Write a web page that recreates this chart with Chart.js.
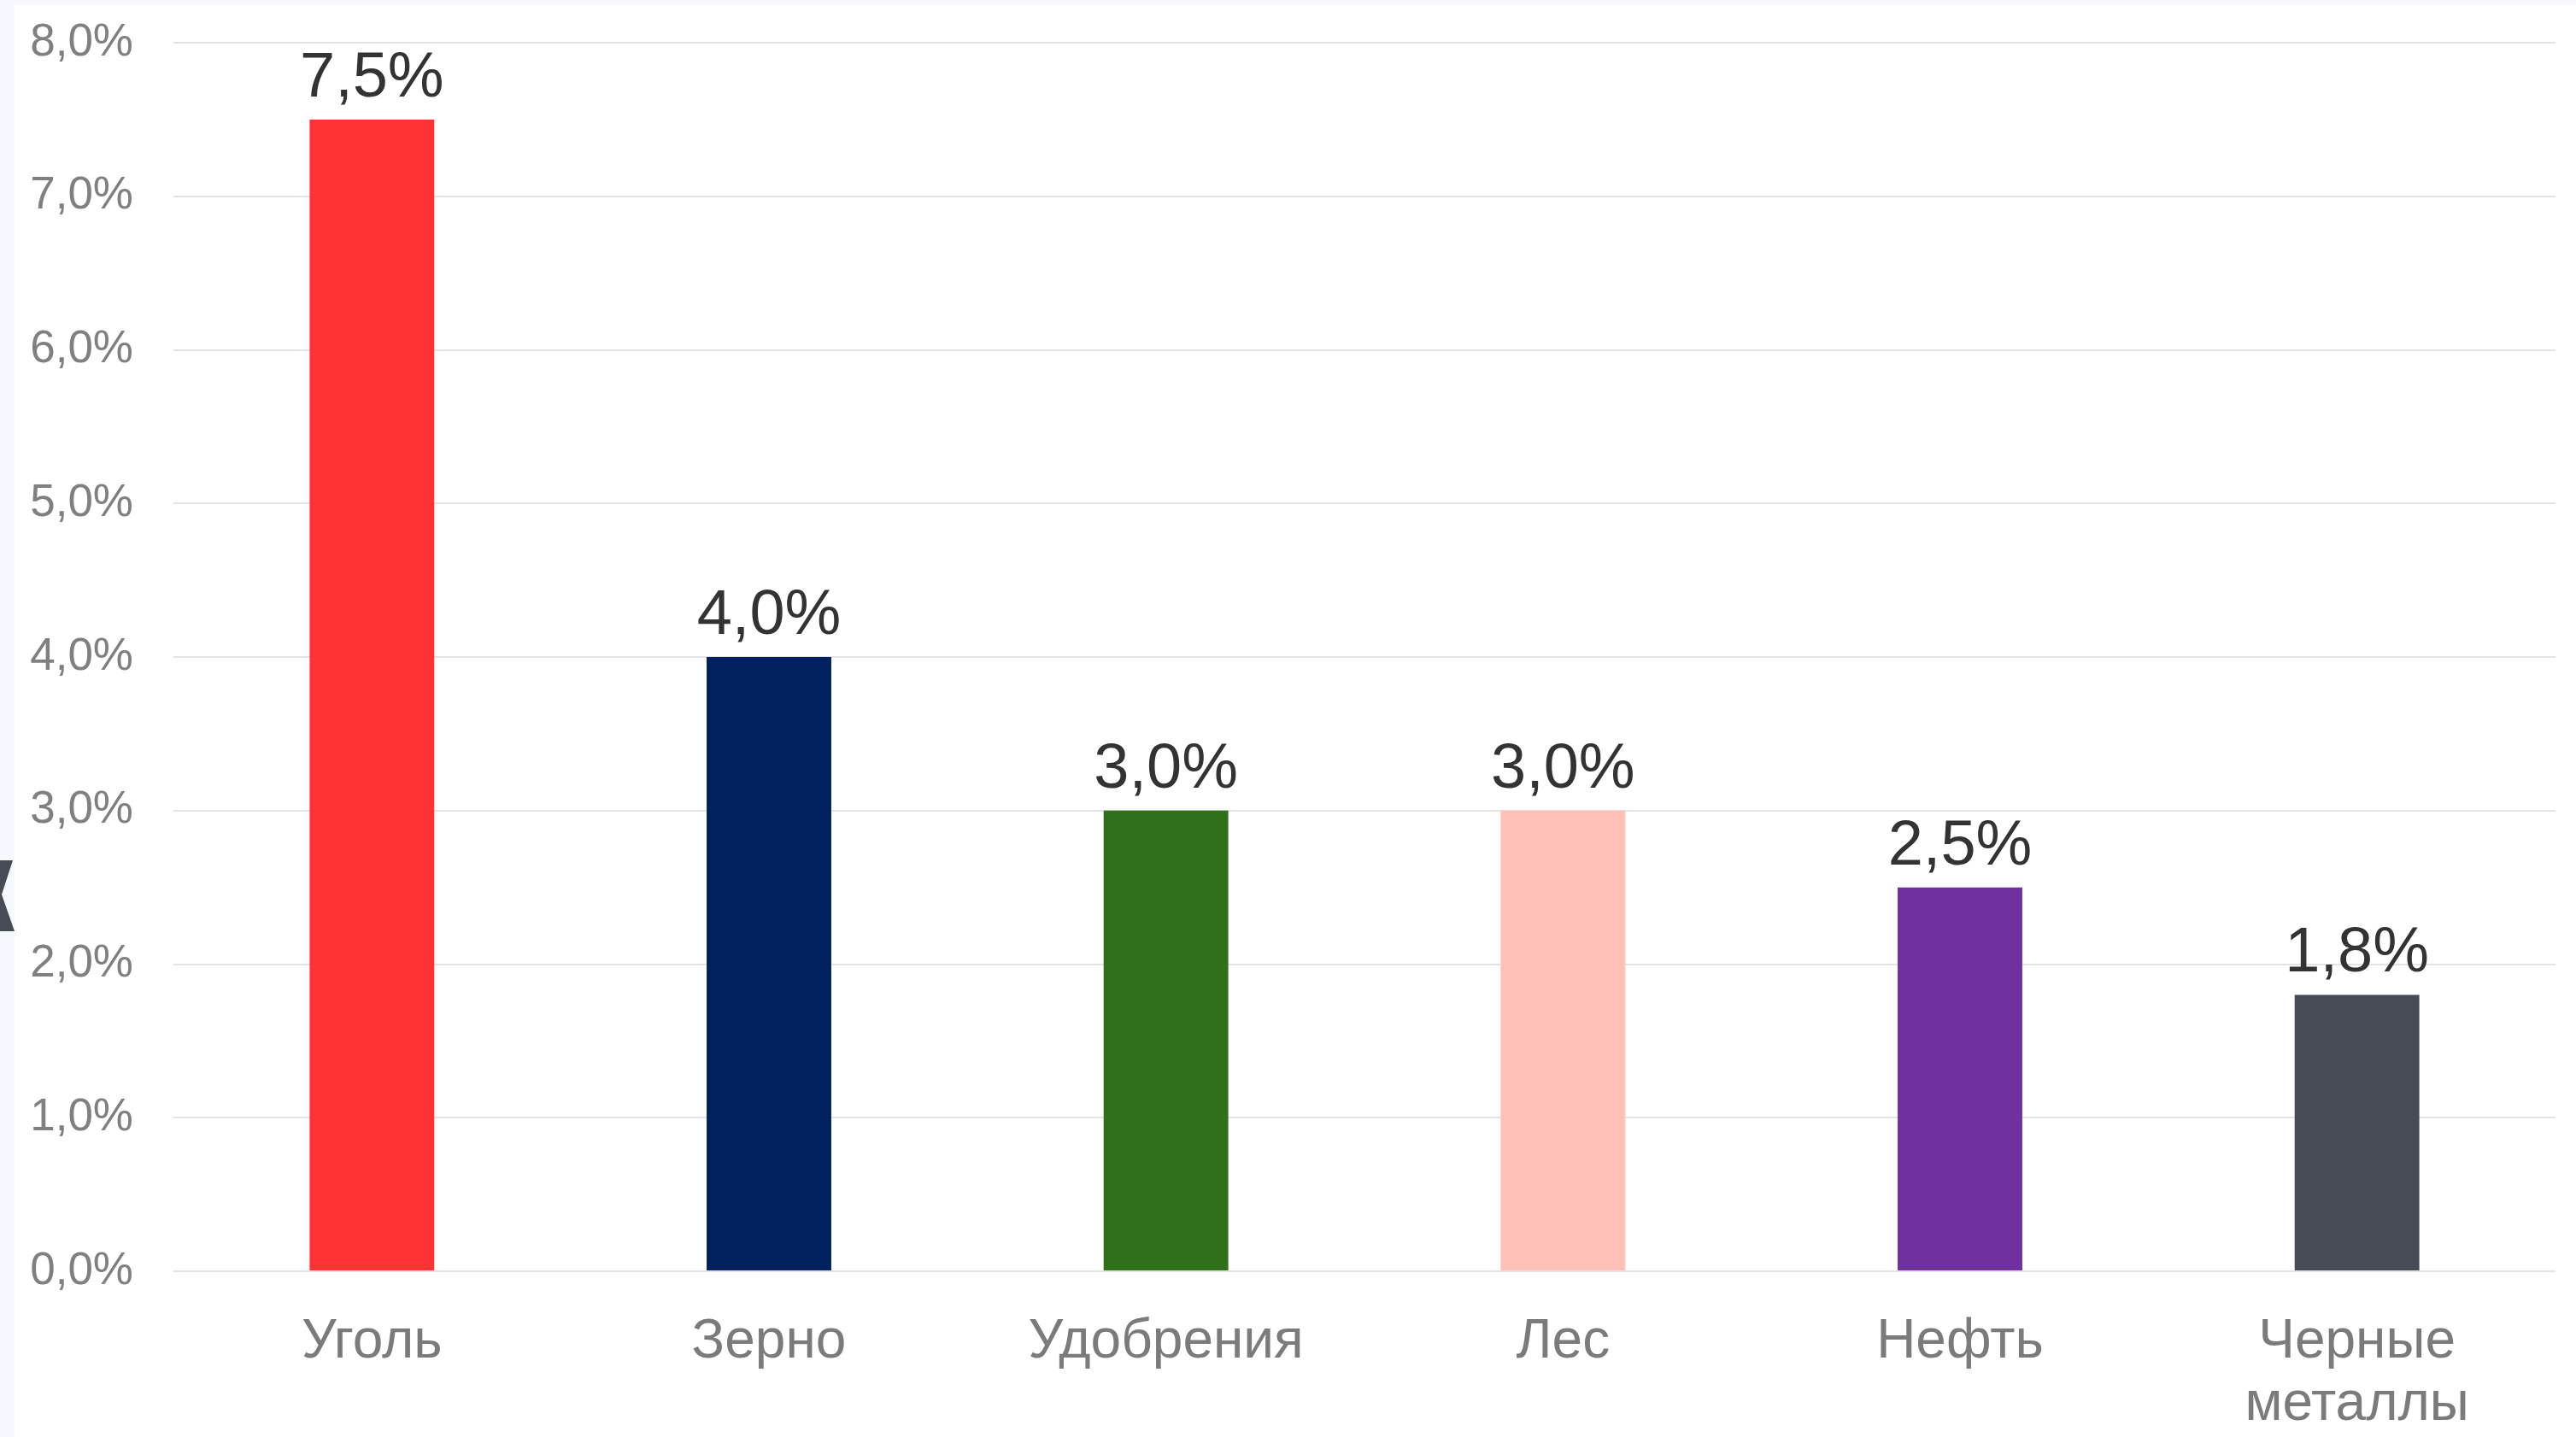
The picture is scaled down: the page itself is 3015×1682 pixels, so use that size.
<!DOCTYPE html>
<html>
<head>
<meta charset="utf-8">
<script src="https://cdn.jsdelivr.net/npm/chart.js@4.4.1/dist/chart.umd.min.js"></script>
<style>
  html, body { margin: 0; padding: 0; }
  body { width: 3015px; height: 1682px; background: #f5f8fe; position: relative; overflow: hidden; }
  #card { position: absolute; left: 17px; top: 6px; width: 2998px; height: 1676px; background: #fff; }
  #arrow { position: absolute; left: 0; top: 1007px; width: 18px; height: 83px; background: #474b55;
           clip-path: polygon(0 0, 15px 0, 2px 40px, 17px 83px, 0 83px); }
</style>
</head>
<body>
<div id="arrow"></div>
<div id="card"><canvas id="bar-chart"></canvas></div>
<script>
// доля по видам грузов
var categories = ["Уголь", "Зерно", "Удобрения", "Лес", "Нефть", ["Черные", "металлы"]];
var values = [7.5, 4.0, 3.0, 3.0, 2.5, 1.8];
var barColors = ['#ff3334', '#01205e', '#30701a', '#ffc0b7', '#7030a0', '#474b55'];
var yTicks = [0, 1, 2, 3, 4, 5, 6, 7, 8];

var FONT = "'Liberation Sans', Arial, sans-serif";

function pct(v) {
    return v.toFixed(1).replace('.', ',') + '%';
}

// подписи над столбцами
var valueLabels = {
    id: 'valueLabels',
    afterDatasetsDraw: function(chart) {
        var ctx = chart.ctx;
        var meta = chart.getDatasetMeta(0);
        ctx.save();
        ctx.font = '74px ' + FONT;
        ctx.fillStyle = '#333333';
        ctx.textAlign = 'center';
        ctx.textBaseline = 'alphabetic';
        meta.data.forEach(function(bar, i) {
            ctx.fillText(pct(values[i]), bar.x, bar.y - 27);
        });
        ctx.restore();
    }
};

// убираем авто-отступы осей, отступы задаём сами
function noPad(axis) {
    axis.paddingTop = 0;
    axis.paddingBottom = 0;
    axis.paddingLeft = 0;
    axis.paddingRight = 0;
}

var ctx = document.getElementById('bar-chart');

var barChart = new Chart(ctx, {
    type: 'bar',
    data: {
        labels: categories,
        datasets: [
            {
                data: values,
                backgroundColor: barColors,
                borderWidth: 0,
                categoryPercentage: 1,
                barPercentage: 0.314
            }
        ]
    },
    options: {
        responsive: true,
        maintainAspectRatio: false,
        animation: false,
        layout: { padding: { left: 18, right: 24, top: 44, bottom: 8 } },
        plugins: {
            legend: { display: false },
            tooltip: { enabled: false }
        },
        scales: {
            x: {
                grid: { display: false, drawTicks: false },
                border: { display: false },
                ticks: {
                    color: '#7b7b7b',
                    font: { family: FONT, size: 64, lineHeight: 1.14 },
                    padding: 47,
                    maxRotation: 0,
                    autoSkip: false
                },
                afterFit: function(axis) {
                    noPad(axis);
                    axis.height = 186;
                }
            },
            y: {
                min: 0,
                max: 8,
                afterBuildTicks: function(axis) {
                    axis.ticks = yTicks.map(function(v) { return { value: v }; });
                },
                grid: { color: '#e3e3e3', lineWidth: 2, drawTicks: false },
                border: { display: false },
                ticks: {
                    color: '#808080',
                    font: { family: FONT, size: 53 },
                    padding: 47,
                    callback: function(v) { return pct(v); }
                },
                afterFit: function(axis) {
                    noPad(axis);
                    axis.width = 168;
                }
            }
        }
    },
    plugins: [valueLabels]
});
</script>
</body>
</html>
